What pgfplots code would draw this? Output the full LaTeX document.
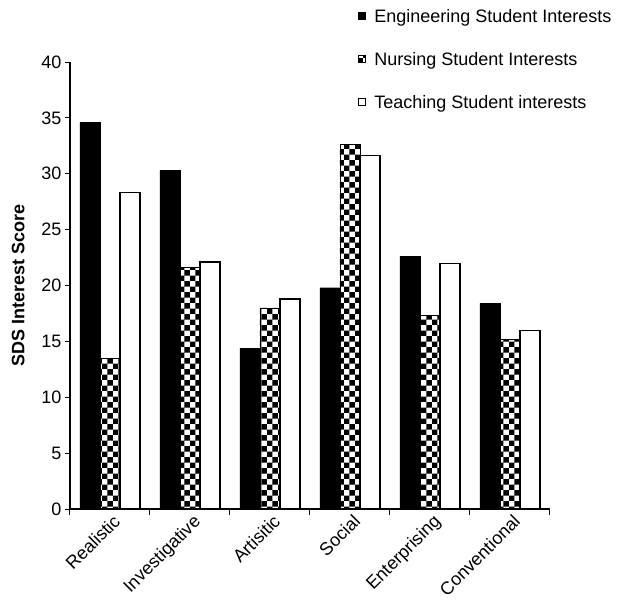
\documentclass[border=0pt]{standalone}
\usepackage{pgfplots}
\pgfplotsset{compat=1.18}
\usepackage{fontspec}
\setmainfont{Liberation Sans}
\usetikzlibrary{patterns}
\begin{document}
\begin{tikzpicture}
\begin{axis}[
  width=480pt, height=447pt, scale only axis,
  ybar=0pt, bar width=20pt,
  xmin=-0.5, xmax=5.5, ymin=0, ymax=40,
  ytick={0,5,...,40},
  xtick={0,...,5},
  xticklabels={Realistic,Investigative,Artisitic,Social,Enterprising,Conventional},
  minor xtick={-0.5,0.5,...,5.5},
  major x tick style={draw=none},
  minor tick length=6pt, major tick length=5pt,
  tick align=outside,
  axis x line*=bottom, axis y line*=left,
  axis line style={line width=1.2pt},
  tick style={line width=1pt, black},
  x tick label style={rotate=45, anchor=north east, inner sep=1pt, xshift=3pt, font=\fontsize{18}{21}\selectfont},
  y tick label style={font=\fontsize{18}{21}\selectfont},
  /pgf/number format/assume math mode=true,
  ylabel={\bfseries SDS Interest Score},
  ylabel style={font=\fontsize{18}{21}\selectfont, yshift=10pt},
  legend style={draw=none, at={(rel axis cs:0.6,1.121)}, anchor=north west, font=\fontsize{18}{21}\selectfont, row sep=26.5pt, inner sep=0pt, nodes={inner sep=1pt}},
  legend cell align=left,
  legend image code/.code={\draw[#1, line width=1pt] (0pt,-3.5pt) rectangle (7pt,3.5pt); \path (14pt,0pt);},
]
\addplot[fill=black, draw=black] coordinates {(0,34.6) (1,30.3) (2,14.4) (3,19.8) (4,22.6) (5,18.4)};
\addplot[pattern=checkerboard, pattern color=black, draw=black] coordinates {(0,13.5) (1,21.6) (2,18.0) (3,32.6) (4,17.3) (5,15.2)};
\addplot[fill=white, draw=black, line width=1.2pt] coordinates {(0,28.3) (1,22.1) (2,18.8) (3,31.6) (4,22.0) (5,16.0)};
\legend{Engineering Student Interests, Nursing Student Interests, Teaching Student interests}
\end{axis}
\pgfresetboundingbox
\useasboundingbox (-70pt,-94pt) rectangle (551pt,509pt);
\end{tikzpicture}
\end{document}
